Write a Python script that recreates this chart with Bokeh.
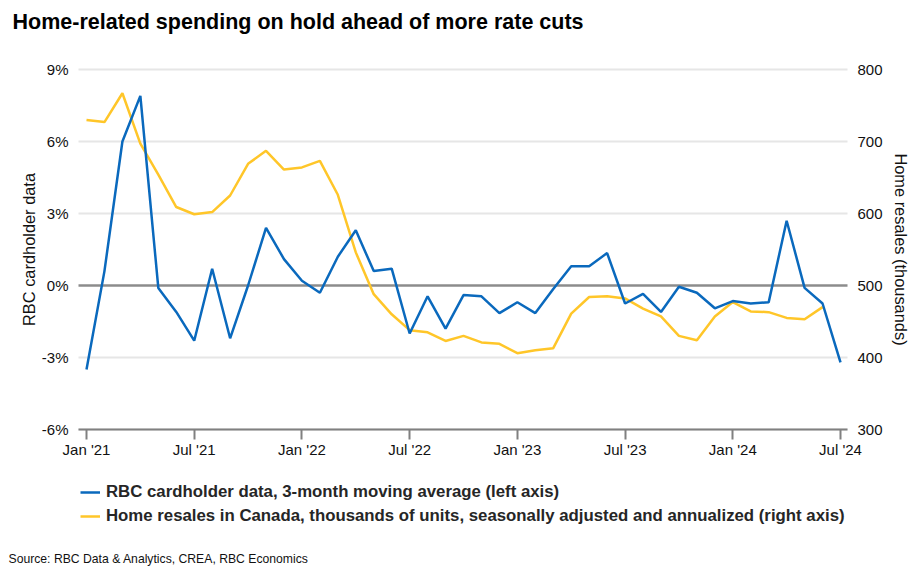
from bokeh.plotting import figure
from bokeh.models import (Range1d, LinearAxis, FixedTicker, Label, Legend,
                          LegendItem, ColumnDataSource)
from bokeh.embed import file_html
from bokeh.resources import INLINE

# ---------------- data ----------------
months = ["2021-01", "2021-02", "2021-03", "2021-04", "2021-05", "2021-06",
          "2021-07", "2021-08", "2021-09", "2021-10", "2021-11", "2021-12",
          "2022-01", "2022-02", "2022-03", "2022-04", "2022-05", "2022-06",
          "2022-07", "2022-08", "2022-09", "2022-10", "2022-11", "2022-12",
          "2023-01", "2023-02", "2023-03", "2023-04", "2023-05", "2023-06",
          "2023-07", "2023-08", "2023-09", "2023-10", "2023-11", "2023-12",
          "2024-01", "2024-02", "2024-03", "2024-04", "2024-05", "2024-06",
          "2024-07"]

cardholder = [-3.5, 0.6, 6.0, 7.9, -0.1, -1.1, -2.3, 0.7, -2.2, 0.0, 2.4, 1.1,
              0.2, -0.3, 1.2, 2.3, 0.6, 0.7, -2.0, -0.45, -1.8, -0.4, -0.45, -1.15,
              -0.7, -1.15, -0.15, 0.8, 0.8, 1.35, -0.75, -0.35, -1.1, -0.05, -0.3, -0.95,
              -0.65, -0.75, -0.7, 2.7, -0.1, -0.75, -3.2]

resales = [730, 727, 767, 697, 654, 609, 599, 602, 625, 669, 687, 661,
           664, 673, 626, 546, 488, 460, 438, 435, 423, 430, 421, 419,
           406, 410, 413, 461, 484, 485, 482, 468, 457, 430, 424, 457,
           477, 464, 463, 455, 453, 470]

x_tick_labels = ["Jan '21", "Jul '21", "Jan '22", "Jul '22", "Jan '23",
                 "Jul '23", "Jan '24", "Jul '24"]
left_ticks = [-6, -3, 0, 3, 6, 9]
left_tick_labels = ["-6%", "-3%", "0%", "3%", "6%", "9%"]
right_ticks = [300, 400, 500, 600, 700, 800]

title_text = "Home-related spending on hold ahead of more rate cuts"
source_text = "Source: RBC Data & Analytics, CREA, RBC Economics"
legend_blue = "RBC cardholder data, 3-month moving average (left axis)"
legend_yellow = ("Home resales in Canada, thousands of units, seasonally adjusted "
                 "and annualized (right axis)")

BLUE = "#0a69bd"
YELLOW = "#ffc629"
FONT = "Liberation Sans"

# ---------------- geometry (canvas px) ----------------
W, H = 924, 584
PLOT_L, PLOT_R, PLOT_T, PLOT_B = 78, 847, 69, 429
X0_PX, X42_PX = 86, 840                      # Jan '21 and Jul '24 tick positions
px_per_month = (X42_PX - X0_PX) / 42.0
y_lo, y_hi = left_ticks[0], left_ticks[-1]
px_per_pct = (PLOT_B - PLOT_T) / (y_hi - y_lo)
r_lo, r_hi = right_ticks[0], right_ticks[-1]
px_per_k = (PLOT_B - PLOT_T) / (r_hi - r_lo)

x_start = -X0_PX / px_per_month
x_end = (W - X0_PX) / px_per_month
xl = (PLOT_L - X0_PX) / px_per_month        # data x at plot left edge
xr = (PLOT_R - X0_PX) / px_per_month        # data x at plot right edge

y_start = y_lo - (H - PLOT_B) / px_per_pct
y_end = y_hi + PLOT_T / px_per_pct
r_start = r_lo - (H - PLOT_B) / px_per_k
r_end = r_hi + PLOT_T / px_per_k

# ---------------- figure ----------------
x_idx = list(range(len(months)))
blue_src = ColumnDataSource(dict(x=x_idx, y=cardholder))
yellow_src = ColumnDataSource(dict(x=x_idx[:len(resales)], y=resales))

p = figure(width=W, height=H, output_backend="svg", toolbar_location=None,
           x_range=Range1d(x_start, x_end), y_range=Range1d(y_start, y_end),
           x_axis_location=None, y_axis_location=None,
           min_border_left=0, min_border_right=0, min_border_top=0,
           min_border_bottom=0)
p.extra_y_ranges = {"right": Range1d(r_start, r_end)}
p.outline_line_color = None
p.background_fill_color = "white"
p.border_fill_color = "white"
for g in p.grid:
    g.visible = False

# horizontal gridlines
grid_ticks = [t for t in left_ticks if t != 0]
p.segment(x0=[xl] * len(grid_ticks), x1=[xr] * len(grid_ticks),
          y0=grid_ticks, y1=grid_ticks, line_color="#e6e6e6", line_width=2)
# zero line
p.segment(x0=[xl], x1=[xr], y0=[0], y1=[0], line_color="#8c8c8c", line_width=2.5)

# x axis (bottom of plot area)
x_ticks = list(range(0, len(months), 6))
xa = LinearAxis(fixed_location=y_lo, bounds=(xl, xr),
                ticker=FixedTicker(ticks=x_ticks))
xa.major_label_overrides = {t: lab for t, lab in zip(x_ticks, x_tick_labels)}
xa.axis_line_color = "#808080"
xa.axis_line_width = 2
xa.major_tick_line_color = "#808080"
xa.major_tick_line_width = 2
xa.major_tick_out = 10
xa.major_tick_in = 0
xa.minor_tick_line_color = None
xa.minor_tick_out = 0
xa.major_label_standoff = 1
xa.major_label_text_font = FONT
xa.major_label_text_font_size = "15px"
xa.major_label_text_color = "#111111"
p.add_layout(xa, "below")

# left axis
ya = LinearAxis(fixed_location=xl, bounds=(y_lo, y_hi),
                ticker=FixedTicker(ticks=left_ticks))
ya.major_label_overrides = {t: lab for t, lab in zip(left_ticks, left_tick_labels)}
ya.axis_line_color = None
ya.major_tick_line_color = None
ya.minor_tick_line_color = None
ya.major_tick_out = 0
ya.major_tick_in = 0
ya.minor_tick_out = 0
ya.major_label_standoff = 10
ya.major_label_text_font = FONT
ya.major_label_text_font_size = "15px"
ya.major_label_text_color = "#111111"
ya.axis_label = "RBC cardholder data"
ya.axis_label_text_font = FONT
ya.axis_label_text_font_size = "16.4px"
ya.axis_label_text_font_style = "normal"
ya.axis_label_text_color = "#111111"
ya.axis_label_standoff = 1
p.add_layout(ya, "left")

# right axis
ra = LinearAxis(y_range_name="right", fixed_location=xr, bounds=(r_lo, r_hi),
                ticker=FixedTicker(ticks=right_ticks))
ra.axis_line_color = None
ra.major_tick_line_color = None
ra.minor_tick_line_color = None
ra.major_tick_out = 0
ra.major_tick_in = 0
ra.minor_tick_out = 0
ra.major_label_standoff = 10
ra.major_label_text_font = FONT
ra.major_label_text_font_size = "15px"
ra.major_label_text_color = "#111111"
ra.axis_label = "Home resales (thousands)"
ra.axis_label_text_font = FONT
ra.axis_label_text_font_size = "16.4px"
ra.axis_label_text_font_style = "normal"
ra.axis_label_text_color = "#111111"
ra.axis_label_standoff = 6
p.add_layout(ra, "right")

# lines
r_yellow = p.line("x", "y", source=yellow_src, line_color=YELLOW, line_width=2.5,
                  y_range_name="right")
r_blue = p.line("x", "y", source=blue_src, line_color=BLUE, line_width=2.5)

# legend
legend = Legend(items=[LegendItem(label=legend_blue, renderers=[r_blue]),
                       LegendItem(label=legend_yellow, renderers=[r_yellow])],
                location=(80, 58), orientation="vertical",
                border_line_color=None, background_fill_alpha=0,
                padding=0, margin=0, spacing=4,
                glyph_width=20, glyph_height=20, label_height=20,
                label_standoff=6,
                label_text_font=FONT, label_text_font_size="16.8px",
                label_text_font_style="bold", label_text_color="#262626")
p.add_layout(legend, "center")

# title & source
p.add_layout(Label(x=12, y=H - 21.5, x_units="screen", y_units="screen",
                   text=title_text, text_font=FONT, text_font_size="21.5px",
                   text_font_style="bold", text_color="#000000",
                   text_baseline="alphabetic"))
p.add_layout(Label(x=8, y=H - 558, x_units="screen", y_units="screen",
                   text=source_text, text_font=FONT, text_font_size="12.2px",
                   text_color="#111111", text_baseline="alphabetic"))

open("out.html", "w").write(file_html(p, INLINE))
